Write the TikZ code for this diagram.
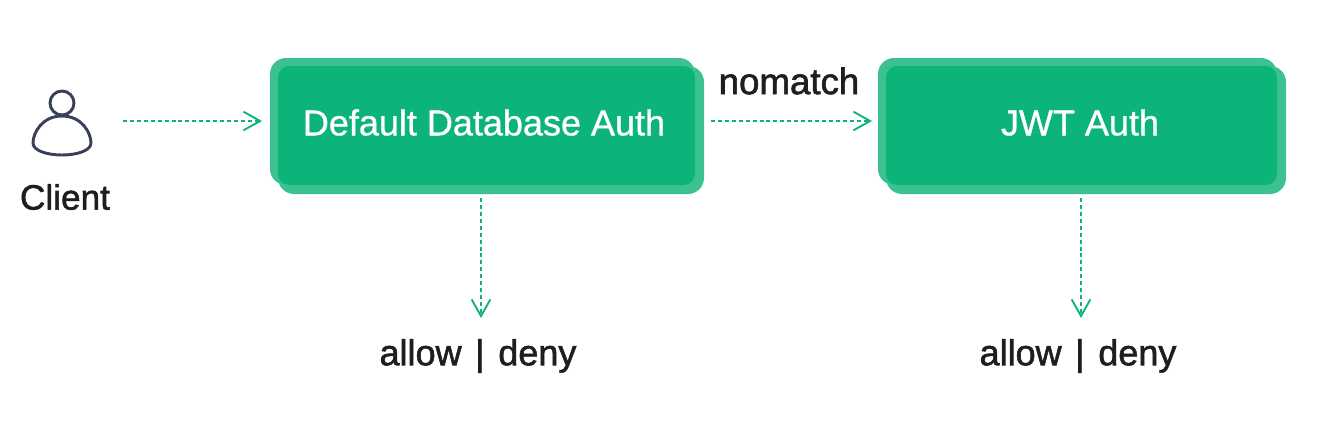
\documentclass[tikz,border=0pt]{standalone}
\usepackage{fontspec}
\setmainfont{Liberation Sans}
\newfontfamily\labelfont[FakeBold=1.6]{Liberation Sans}
\newfontfamily\boxfont[FakeBold=0.8]{Liberation Sans}
\usepackage[svgnames]{xcolor}
\usetikzlibrary{arrows.meta}
\definecolor{authdark}{HTML}{0DB47A}
\definecolor{authlight}{HTML}{3CC190}
\definecolor{iconblue}{HTML}{3A4058}
\definecolor{inkblack}{HTML}{1E1E1E}
\tikzset{
	backbox/.style={fill=authlight, rounded corners=12pt},
	authbox/.style={fill=authdark, rounded corners=8.5pt},
	boxlabel/.style={inner sep=0pt, text=white, font=\boxfont\fontsize{27}{30}\selectfont},
	flow/.style={color=authdark, line width=1.25pt, dash pattern=on 3pt off 2.2pt, arrows={-{Straight Barb[length=12.5pt,width=14pt,line width=1.4pt]}}},
	plainlabel/.style={text=inkblack, inner sep=0pt, font=\labelfont\fontsize{27.5}{30}\selectfont}
}
\begin{document}
\begin{tikzpicture}[x=.75pt, y=-.75pt]
	\useasboundingbox (0,0) rectangle (1330,426);
	% database box
	\fill[backbox] (270,58) rectangle (695,185);
	\fill[backbox] (278,66) rectangle (704,194);
	\fill[authbox] (278,66) rectangle (695,185);
	\node[boxlabel] (dbauth) at (484,122.5) {Default Database Auth};
	% jwt box
	\fill[backbox] (878,58) rectangle (1277,185);
	\fill[backbox] (886,66) rectangle (1286,194);
	\fill[authbox] (886,66) rectangle (1277,185);
	\node[boxlabel] (jwtauth) at (1080,122.5) {JWT Auth};
	% client icon
	\draw[iconblue, line width=2.2pt] (62,103) circle (12);
	\draw[iconblue, line width=2.2pt, line join=round] (62,116) .. controls (42,116) and (33,133) .. (33,143)
		.. controls (33,151) and (48,155) .. (62,155) .. controls (76,155) and (91,151) .. (91,143)
		.. controls (91,133) and (82,116) .. (62,116) -- cycle;
	\node[plainlabel, font=\labelfont\fontsize{26.4}{30}\selectfont] (client) at (65,197) {Client};
	\node[plainlabel] (nomatch) at (789,81) {nomatch};
	\node[plainlabel, font=\labelfont\fontsize{27}{30}\selectfont] (dbresult) at (478,356) {allow\hspace{.38em}\textbar\hspace{.38em}deny};
	\node[plainlabel, font=\labelfont\fontsize{27}{30}\selectfont] (jwtresult) at (1078,356) {allow\hspace{.38em}\textbar\hspace{.38em}deny};
	% connectors
	\coordinate (clientout) at (123,121);
	\coordinate (dbin) at (262,121);
	\coordinate (dbout) at (711,121);
	\coordinate (jwtin) at (872,121);
	\coordinate (dbdown) at (481,198);
	\coordinate (dbend) at (481,318);
	\coordinate (jwtdown) at (1081,198);
	\coordinate (jwtend) at (1081,318);
	\draw[flow] (clientout) -- (dbin);
	\draw[flow] (dbout) -- (jwtin);
	\draw[flow] (dbdown) -- (dbend);
	\draw[flow] (jwtdown) -- (jwtend);
\end{tikzpicture}
\end{document}
